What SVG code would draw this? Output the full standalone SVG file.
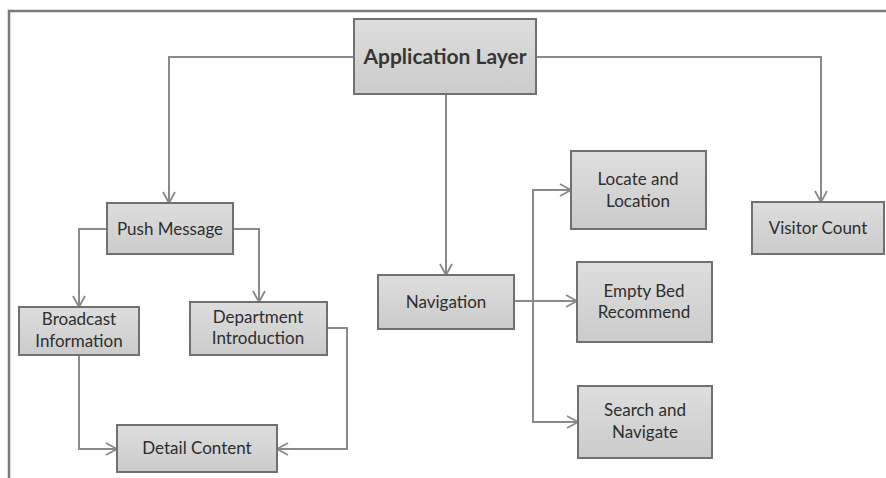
<svg xmlns="http://www.w3.org/2000/svg" width="886" height="478" viewBox="0 0 886 478">
<style>
.box{fill:url(#g);stroke:#707070;stroke-width:2}
.t{font-family:Lato,"Liberation Sans",sans-serif;font-size:17px;fill:#2e2e2e;text-anchor:middle}
.big{font-size:21px;font-weight:bold;fill:#363636}
.c{fill:none;stroke:#8a8a8a;stroke-width:2}
.frame{fill:none;stroke:#7a7a7a;stroke-width:2.5}
</style>
<defs>
<linearGradient id="g" x1="0" y1="0" x2="0" y2="1">
<stop offset="0" stop-color="#dedede"/>
<stop offset="1" stop-color="#cbcbcb"/>
</linearGradient>
<marker id="a" markerWidth="14" markerHeight="14" refX="12" refY="7" orient="auto" markerUnits="userSpaceOnUse">
<path d="M1,1 L12,7 L1,13" fill="none" stroke="#8a8a8a" stroke-width="1.8"/>
</marker>
</defs>
<rect width="886" height="478" fill="#fff"/>
<path class="frame" d="M9,478 V11 H886"/>
<g id="connectors">
<path class="c" marker-end="url(#a)" d="M354,57 H169 V203"/>
<path class="c" marker-end="url(#a)" d="M536,57 H821 V202"/>
<path class="c" marker-end="url(#a)" d="M446,94 V275"/>
<path class="c" marker-end="url(#a)" d="M107,229 H79 V307"/>
<path class="c" marker-end="url(#a)" d="M233,229 H259 V302"/>
<path class="c" marker-end="url(#a)" d="M79,355 V449 H117"/>
<path class="c" marker-end="url(#a)" d="M327,328 H347 V449 H277"/>
<path class="c" marker-end="url(#a)" d="M514,301 H577"/>
<path class="c" marker-end="url(#a)" d="M533,301 V190 H571"/>
<path class="c" marker-end="url(#a)" d="M533,301 V422 H578"/>
</g>
<g id="app"><rect class="box" x="354" y="19" width="182" height="75"/><text class="t big" x="445" y="64">Application Layer</text></g>
<g id="push"><rect class="box" x="107" y="203" width="126" height="51"/><text class="t" x="170" y="235">Push Message</text></g>
<g id="visitor"><rect class="box" x="752" y="202" width="132" height="52"/><text class="t" x="818" y="234">Visitor Count</text></g>
<g id="nav"><rect class="box" x="378" y="275" width="136" height="54"/><text class="t" x="446" y="308">Navigation</text></g>
<g id="locate"><rect class="box" x="571" y="151" width="135" height="78"/><text class="t" x="638" y="185">Locate and</text><text class="t" x="638" y="207">Location</text></g>
<g id="emptybed"><rect class="box" x="577" y="262" width="135" height="80"/><text class="t" x="644" y="297">Empty Bed</text><text class="t" x="644" y="318">Recommend</text></g>
<g id="search"><rect class="box" x="578" y="386" width="134" height="72"/><text class="t" x="645" y="416">Search and</text><text class="t" x="645" y="438">Navigate</text></g>
<g id="broadcast"><rect class="box" x="19" y="307" width="120" height="48"/><text class="t" x="79" y="325">Broadcast</text><text class="t" x="79" y="347">Information</text></g>
<g id="dept"><rect class="box" x="190" y="302" width="137" height="53"/><text class="t" x="258" y="323">Department</text><text class="t" x="258" y="344">Introduction</text></g>
<g id="detail"><rect class="box" x="117" y="425" width="160" height="47"/><text class="t" x="197" y="454">Detail Content</text></g>
</svg>
